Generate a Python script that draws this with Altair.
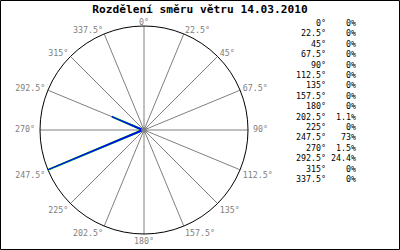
import altair as alt
import pandas as pd

# ---- data ----
angles = [0, 22.5, 45, 67.5, 90, 112.5, 135, 157.5, 180, 202.5, 225, 247.5, 270, 292.5, 315, 337.5]
values = [0, 0, 0, 0, 0, 0, 0, 0, 0, 1.1, 0, 73, 1.5, 24.4, 0, 0]
title_text = "Rozdělení směru větru 14.03.2010"

df = pd.DataFrame({
    "angle": angles,
    "value": values,
    "alabel": [f"{a:g}°" for a in angles],
    "plabel": [f"{v:g}%" for v in values],
    "row": list(range(len(angles))),
})
poly = pd.concat([df, df.iloc[[0]]], ignore_index=True)
poly["ord"] = range(len(poly))

R = 104.0  # px
CX, CY = 144.0, 130.0
W, H = 400, 250
xs = alt.Scale(domain=[-CX / R, (W - CX) / R], nice=False, zero=False)
ys = alt.Scale(domain=[-(H - CY) / R, CY / R], nice=False, zero=False)
MONO = "DejaVu Sans Mono"
GRAY = "#808080"


def X(f):
    return alt.X(f, type="quantitative", scale=xs, axis=None)


def Y(f):
    return alt.Y(f, type="quantitative", scale=ys, axis=None)


base = alt.Chart(df).transform_calculate(
    sx="sin(datum.angle*PI/180)", cy="cos(datum.angle*PI/180)"
)

frame = alt.Chart(pd.DataFrame({"a": [0]})).mark_rect(
    filled=False, stroke="black", strokeWidth=1
).encode(x=alt.value(0.5), x2=alt.value(399.5), y=alt.value(0.5), y2=alt.value(249.5))

spokes = base.transform_calculate(zero="0").mark_rule(color=GRAY, strokeWidth=1).encode(
    x=X("zero:Q"), y=Y("zero:Q"), x2="sx:Q", y2="cy:Q"
)

circle = alt.Chart(pd.DataFrame({"a": [0]})).transform_calculate(zero="0").mark_point(
    shape="circle", size=(2 * R) ** 2, filled=False, stroke="black", strokeWidth=1, opacity=1
).encode(x=X("zero:Q"), y=Y("zero:Q"))

pbase = alt.Chart(poly).transform_joinaggregate(vmax="max(value)").transform_calculate(
    px="datum.value/datum.vmax*sin(datum.angle*PI/180)",
    py="datum.value/datum.vmax*cos(datum.angle*PI/180)",
)
green = pbase.mark_line(color="#00cc00", strokeWidth=1.8).encode(
    x=X("px:Q"), y=Y("py:Q"), order="ord:Q"
)
blue = pbase.mark_line(color="#0000ff", strokeWidth=1.2).encode(
    x=X("px:Q"), y=Y("py:Q"), order="ord:Q"
)

center = alt.Chart(pd.DataFrame({"a": [0]})).transform_calculate(zero="0").mark_point(
    shape="circle", size=30, filled=True, color=GRAY, opacity=1
).encode(x=X("zero:Q"), y=Y("zero:Q"))

LR = 1 + 3 / R
groups = [
    ("datum.angle == 0", "center", "alphabetic", 0, 2),
    ("datum.angle > 0 && datum.angle < 90", "left", "alphabetic", 0, 2),
    ("datum.angle == 90", "left", "middle", 2, 0),
    ("datum.angle > 90 && datum.angle < 180", "left", "top", 0, 0),
    ("datum.angle == 180", "center", "top", 0, 0),
    ("datum.angle > 180 && datum.angle < 270", "right", "top", 0, 0),
    ("datum.angle == 270", "right", "middle", -2, 0),
    ("datum.angle > 270", "right", "alphabetic", 0, 2),
]
label_layers = []
for cond, al, bl, dx, dy in groups:
    label_layers.append(
        base.transform_filter(cond)
        .transform_calculate(lx=f"{LR}*datum.sx", ly=f"{LR}*datum.cy")
        .mark_text(font=MONO, fontSize=8.3, color=GRAY, align=al, baseline=bl, dx=dx, dy=dy)
        .encode(x=X("lx:Q"), y=Y("ly:Q"), text="alabel:N")
    )

leg = base.transform_calculate(ry=f"({CY} - 24 - 10.4*datum.row)/{R}")
leg_a = leg.mark_text(font=MONO, fontSize=8.3, color="black", align="right", baseline="middle").encode(
    x=alt.value(326), y=Y("ry:Q"), text="alabel:N"
)
leg_p = leg.mark_text(font=MONO, fontSize=8.3, color="black", align="right", baseline="middle").encode(
    x=alt.value(356), y=Y("ry:Q"), text="plabel:N"
)

title = alt.Chart(pd.DataFrame({"t": [title_text]})).mark_text(
    font=MONO, fontSize=11.2, fontWeight="bold", color="black", align="center", baseline="alphabetic"
).encode(x=alt.value(200), y=alt.value(13), text="t:N")

chart = alt.layer(
    spokes, circle, green, blue, center, *label_layers, leg_a, leg_p, title, frame
).properties(
    width=W, height=H, autosize=alt.AutoSizeParams(type="none"), padding=0, background="white"
).configure_view(stroke=None)

chart.save("out.html", embed_options={"renderer": "svg", "actions": False})
